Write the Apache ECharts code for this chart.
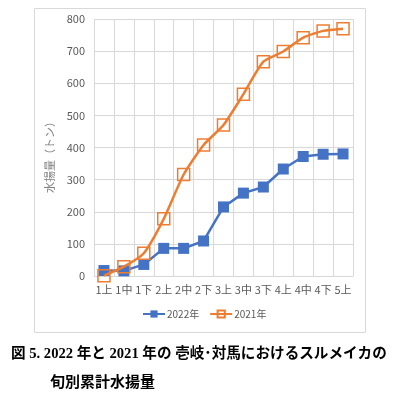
<!DOCTYPE html>
<html>
<head>
<meta charset="utf-8">
<script src="https://cdn.jsdelivr.net/npm/echarts@6/dist/echarts.min.js"></script>
<style>
  html, body { margin: 0; padding: 0; background: #fff; }
  #main { width: 399px; height: 400px; }
</style>
</head>
<body>
<div id="main"></div>
<script>
// 旬 (10日ごと) の区分
var categories = ['1上', '1中', '1下', '2上', '2中', '2下', '3上', '3中', '3下', '4上', '4中', '4下', '5上'];
// 累計水揚量 (トン)
var catch2022 = [17, 16, 36, 86, 86, 109, 215, 258, 277, 333, 372, 379, 380];
var catch2021 = [1, 29, 71, 178, 316, 408, 470, 566, 667, 699, 742, 763, 770];
var yTicks = { min: 0, max: 800, interval: 100 };

var greyText = '#595959';
var gridColor = '#D9D9D9';

var myChart = echarts.init(document.getElementById('main'));
var options = {
  animation: false,
  textStyle: { fontFamily: '"Noto Sans CJK JP", "Noto Sans", sans-serif' },
  graphic: [
    {
      type: 'rect',
      shape: { x: 34.5, y: 8.5, width: 331, height: 324 },
      style: { fill: 'none', stroke: gridColor, lineWidth: 1 },
      z: -1
    },
    {
      type: 'text',
      left: 11,
      top: 347,
      style: {
        text: '図 5. 2022 年と 2021 年の 壱岐･対馬におけるスルメイカの',
        font: 'bold 14.6px "Liberation Serif", "Noto Sans CJK JP"',
        fill: '#000'
      }
    },
    {
      type: 'text',
      left: 50,
      top: 374,
      style: {
        text: '旬別累計水揚量',
        font: 'bold 15px "Noto Sans CJK JP"',
        fill: '#000'
      }
    }
  ],
  grid: { left: 94, right: 46, top: 19, bottom: 124 },
  legend: {
    data: ['2022年', '2021年'],
    left: 142,
    top: 309,
    padding: 0,
    itemWidth: 22,
    itemHeight: 9,
    itemGap: 10,
    textStyle: { color: greyText, fontSize: 10, padding: [0, 0, 0, -3] }
  },
  xAxis: {
    type: 'category',
    data: categories,
    boundaryGap: true,
    axisLine: { lineStyle: { color: gridColor } },
    axisTick: { show: false },
    axisLabel: { color: greyText, fontSize: 11, margin: 8, interval: 0 },
    splitLine: { show: true, interval: 0, lineStyle: { color: gridColor } }
  },
  yAxis: {
    type: 'value',
    min: yTicks.min,
    max: yTicks.max,
    interval: yTicks.interval,
    name: '水揚量（トン）',
    nameLocation: 'middle',
    nameRotate: 90,
    nameGap: 27,
    nameTextStyle: { color: '#7f7f7f', fontSize: 11, padding: [0, 14, 0, 0] },
    axisLine: { show: false },
    axisTick: { show: false },
    axisLabel: { color: greyText, fontSize: 11, margin: 9 },
    splitLine: { lineStyle: { color: gridColor } }
  },
  series: [
    {
      name: '2022年',
      type: 'line',
      data: catch2022,
      symbol: 'rect',
      symbolSize: 11,
      itemStyle: { color: '#4472C4' },
      lineStyle: { color: '#4472C4', width: 2.5 },
      z: 2
    },
    {
      name: '2021年',
      type: 'line',
      data: catch2021,
      smooth: 0.2,
      symbol: 'rect',
      symbolSize: 12,
      itemStyle: { color: 'rgba(255,255,255,0)', borderColor: '#ED7D31', borderWidth: 1.5 },
      lineStyle: { color: '#ED7D31', width: 2.5 },
      z: 3
    }
  ]
};
myChart.setOption(options);
</script>
</body>
</html>
